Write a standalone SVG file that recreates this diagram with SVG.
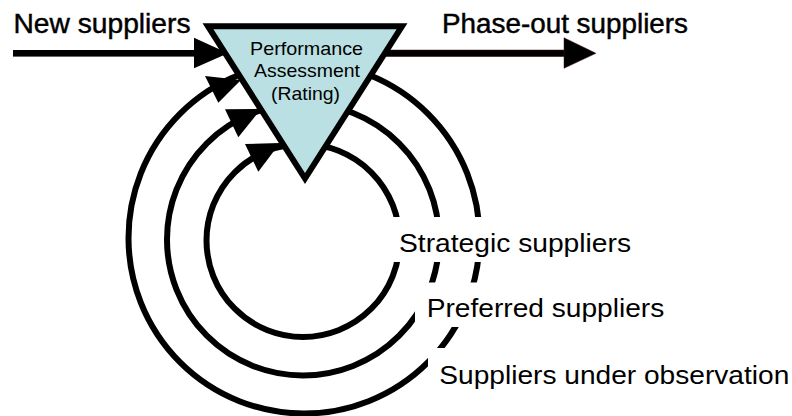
<svg xmlns="http://www.w3.org/2000/svg" width="792" height="416" viewBox="0 0 792 416">
  <style>
    .ring { fill: none; stroke: #000; stroke-width: 6; }
    .head { fill: #000; stroke: none; }
    .mask { fill: #fff; stroke: none; }
    .big { font-family: "Liberation Sans", Arial, sans-serif; font-size: 27px; fill: #000; stroke: #000; stroke-width: 0.45; }
    .lbl { font-family: "Liberation Sans", Arial, sans-serif; font-size: 26px; fill: #000; }
    .tri { font-family: "Liberation Sans", Arial, sans-serif; font-size: 18.5px; fill: #000; text-anchor: middle; }
  </style>
  <rect width="792" height="416" fill="#fff"/>
  <g id="connectors">
    <circle class="ring" cx="304" cy="238" r="175.5"/>
    <circle class="ring" cx="303" cy="239.5" r="136"/>
    <circle class="ring" cx="303" cy="240.5" r="96.5"/>
    <polygon class="head" points="205,76 218.3,102.7 241,80"/>
    <polygon class="head" points="225,109.3 238.3,137.3 261,109"/>
    <polygon class="head" points="245,144 258.3,171.7 280,143"/>
    <rect class="head" x="13" y="50" width="183" height="6.6"/>
    <polygon class="head" points="194,37.7 194,68.3 228,53.3"/>
    <rect x="380" y="50" width="186" height="6.6" fill="#000" stroke="#4a1414" stroke-width="0.5"/>
    <polygon points="564,37.7 564,68.3 596,53.3" fill="#000" stroke="#4a1414" stroke-width="0.5"/>
  </g>
  <g id="assessment">
    <polygon points="208,26.3 402,26.3 305,178.5" fill="#BBE0E3" stroke="#000" stroke-width="6" stroke-linejoin="miter"/>
    <text class="tri" x="306.5" y="55" textLength="113" lengthAdjust="spacingAndGlyphs">Performance</text>
    <text class="tri" x="307" y="77.3" textLength="106" lengthAdjust="spacingAndGlyphs">Assessment</text>
    <text class="tri" x="305.5" y="100" textLength="69" lengthAdjust="spacingAndGlyphs">(Rating)</text>
  </g>
  <g id="new-suppliers">
    <text class="big" x="13.5" y="33.3" textLength="177" lengthAdjust="spacingAndGlyphs">New suppliers</text>
  </g>
  <g id="phase-out-suppliers">
    <text class="big" x="442" y="33.3" textLength="246" lengthAdjust="spacingAndGlyphs">Phase-out suppliers</text>
  </g>
  <g id="strategic-suppliers">
    <rect class="mask" x="390" y="217" width="250" height="45"/>
    <text class="lbl" x="399" y="252" textLength="232" lengthAdjust="spacingAndGlyphs">Strategic suppliers</text>
  </g>
  <g id="preferred-suppliers">
    <rect class="mask" x="415" y="282.5" width="255" height="44.5"/>
    <text class="lbl" x="426.7" y="317.3" textLength="237.6" lengthAdjust="spacingAndGlyphs">Preferred suppliers</text>
  </g>
  <g id="suppliers-under-observation">
    <rect class="mask" x="428" y="348" width="364" height="47"/>
    <text class="lbl" x="439.3" y="384.3" textLength="350" lengthAdjust="spacingAndGlyphs">Suppliers under observation</text>
  </g>
</svg>
